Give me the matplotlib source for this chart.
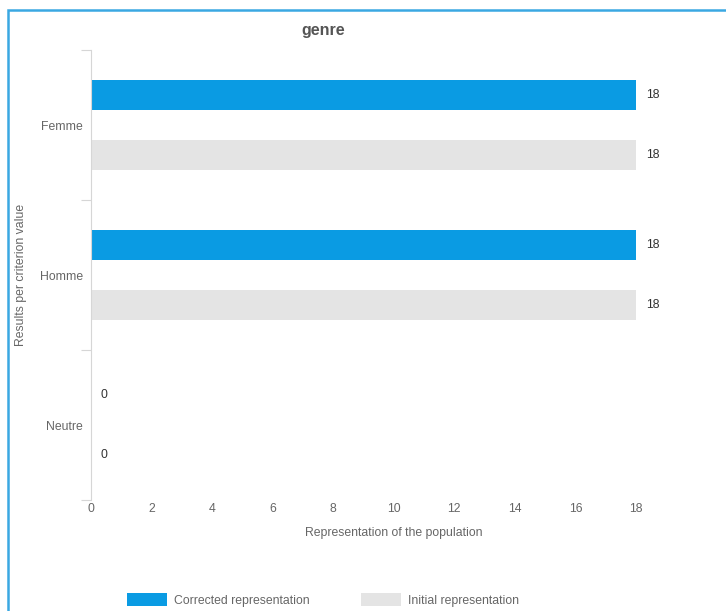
#!/usr/bin/env python3
# coding: utf-8

import numpy as np
import matplotlib
matplotlib.use("Agg")
import matplotlib.pyplot as plt
from matplotlib.patches import Rectangle, Patch

plt.rcParams['font.family'] = ['Liberation Sans', 'DejaVu Sans']

# DATA ########################################################################

categories = ["Femme", "Homme", "Neutre"]
corrected = [18, 18, 0]
initial = [18, 18, 0]
x_ticks = [0, 2, 4, 6, 8, 10, 12, 14, 16, 18]

title = "genre"
x_label = "Representation of the population"
y_label = "Results per criterion value"
legend_labels = ["Corrected representation", "Initial representation"]

# STYLE #######################################################################

blue = "#0a9be3"
grey = "#e4e4e4"
text_grey = "#666666"
axis_grey = "#d6d6d6"
frame_blue = "#3aa8e2"
fs = 8.8

W, H = 726, 611
fig = plt.figure(figsize=(W / 100, H / 100), dpi=100)
fig.patch.set_facecolor("white")

# outer panel frame
fig.patches.append(Rectangle((7.5 / W, -0.1), 1.2, (H - 9.5) / H + 0.1,
                             transform=fig.transFigure, fill=False,
                             edgecolor=frame_blue, linewidth=1.8))

ax_left, ax_top, ax_bottom = 91, 50, 500
x_max = 20
px_per_unit = (636 - 91) / 18.0
ax_right = ax_left + x_max * px_per_unit
ax = fig.add_axes([ax_left / W, 1 - ax_bottom / H,
                   (ax_right - ax_left) / W, (ax_bottom - ax_top) / H])

y = np.arange(len(categories))
bar_h = 0.2
off = 0.2

ax.barh(y - off, corrected, height=bar_h, color=blue, zorder=2)
ax.barh(y + off, initial, height=bar_h, color=grey, zorder=2)

for yi, v in zip(y, corrected):
    ax.annotate(str(v), (v, yi - off), xytext=(7, 0), textcoords="offset points",
                va="center", ha="left", fontsize=fs, color="#333333")
for yi, v in zip(y, initial):
    ax.annotate(str(v), (v, yi + off), xytext=(7, 0), textcoords="offset points",
                va="center", ha="left", fontsize=fs, color="#333333")

ax.set_xlim(0, x_max)
ax.set_ylim(len(categories) - 0.5, -0.5)

for side in ["top", "right", "bottom"]:
    ax.spines[side].set_visible(False)
ax.spines["left"].set_color(axis_grey)
ax.spines["left"].set_linewidth(0.8)

ax.set_xticks(x_ticks)
ax.set_xticklabels([str(t) for t in x_ticks])
ax.tick_params(axis="x", length=0, pad=2, labelsize=fs, labelcolor=text_grey)

ax.set_yticks(np.arange(len(categories) + 1) - 0.5)
ax.set_yticklabels([])
ax.tick_params(axis="y", which="major", length=7, width=0.8, color=axis_grey)
ax.set_yticks(y, minor=True)
ax.set_yticklabels(categories, minor=True)
ax.tick_params(axis="y", which="minor", length=0, pad=6, labelsize=fs,
               labelcolor=text_grey)

ax.set_xlabel(x_label, fontsize=fs, color=text_grey, labelpad=9)
fig.text(21 / W, 1 - 275 / H, y_label, rotation=90, ha="center", va="center",
         fontsize=fs, color=text_grey)

fig.text(323 / W, 1 - 30 / H, title, ha="center", va="center",
         fontsize=11.5, fontweight="bold", color="#555555")

handles = [Patch(facecolor=blue, edgecolor="none"),
           Patch(facecolor=grey, edgecolor="none")]
fig.legend(handles, legend_labels, loc="center", bbox_to_anchor=(323 / W, 1 - 600 / H),
           ncol=2, frameon=False, fontsize=fs, labelcolor=text_grey,
           handlelength=3.3, handleheight=1.2, columnspacing=4.2, handletextpad=0.57)

fig.savefig("out.png", dpi=100)
